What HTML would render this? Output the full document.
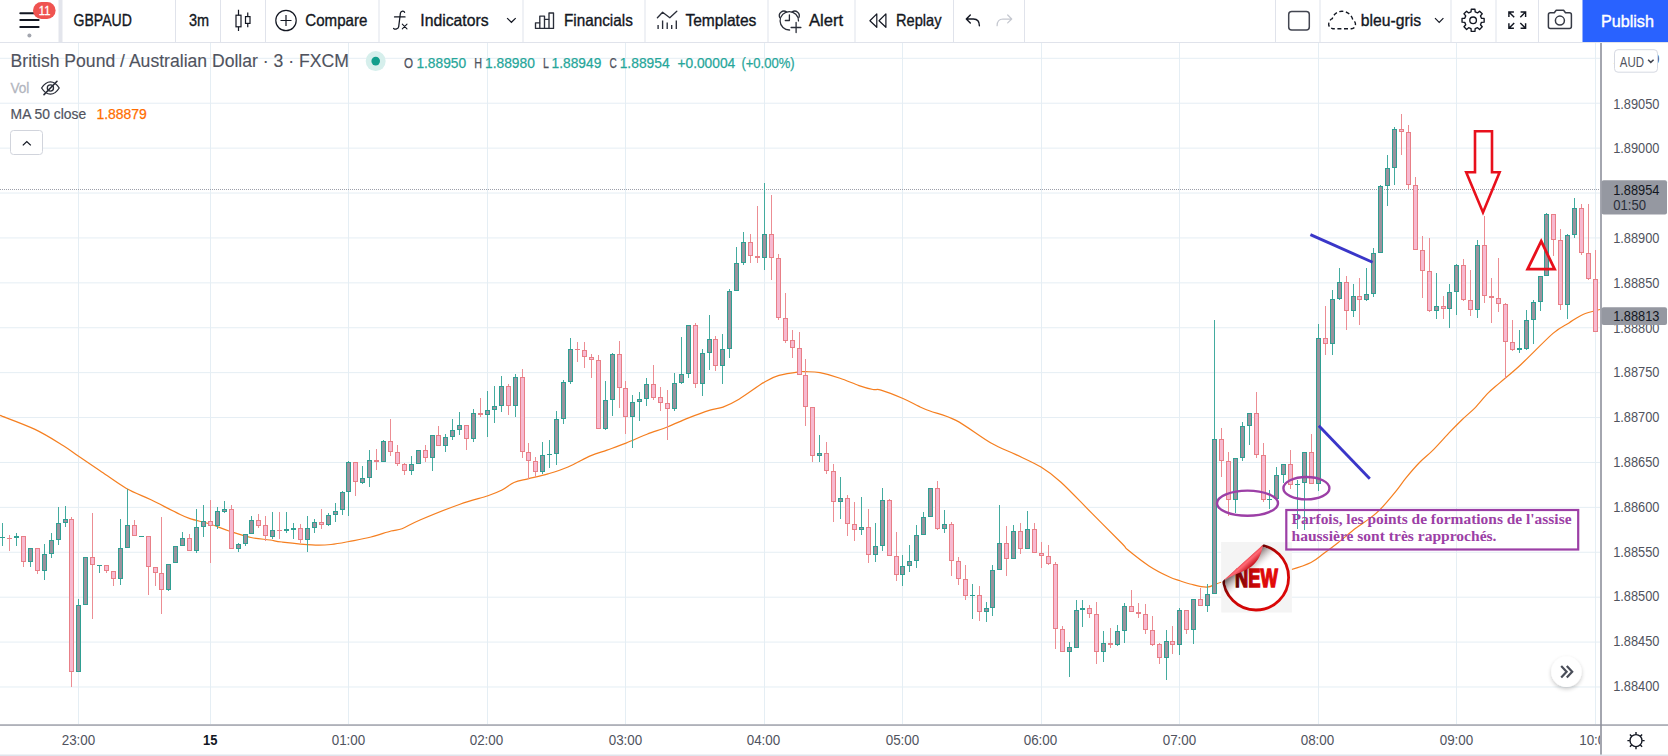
<!DOCTYPE html>
<html><head><meta charset="utf-8"><title>GBPAUD chart</title>
<style>
html,body{margin:0;padding:0;background:#ffffff;}
body{width:1668px;height:756px;overflow:hidden;position:relative;font-family:"Liberation Sans",sans-serif;}
svg{position:absolute;left:0;top:0;display:block;}
svg text{font-family:"Liberation Sans",sans-serif;}
</style></head><body>
<svg width="1668" height="756" viewBox="0 0 1668 756">
<rect x="0" y="0" width="1668" height="756" fill="#ffffff"/>
<g id="grid" shape-rendering="crispEdges">
<rect x="78" y="43" width="1" height="681" fill="#e5eef4"/>
<rect x="210" y="43" width="1" height="681" fill="#e5eef4"/>
<rect x="348" y="43" width="1" height="681" fill="#e5eef4"/>
<rect x="487" y="43" width="1" height="681" fill="#e5eef4"/>
<rect x="625" y="43" width="1" height="681" fill="#e5eef4"/>
<rect x="764" y="43" width="1" height="681" fill="#e5eef4"/>
<rect x="902" y="43" width="1" height="681" fill="#e5eef4"/>
<rect x="1041" y="43" width="1" height="681" fill="#e5eef4"/>
<rect x="1179" y="43" width="1" height="681" fill="#e5eef4"/>
<rect x="1318" y="43" width="1" height="681" fill="#e5eef4"/>
<rect x="1456" y="43" width="1" height="681" fill="#e5eef4"/>
<rect x="1595" y="43" width="1" height="681" fill="#e5eef4"/>
</g>
<g id="gridh">
<rect x="0" y="57.81" width="1600" height="1" fill="#e5eef4"/>
<rect x="0" y="102.72" width="1600" height="1" fill="#e5eef4"/>
<rect x="0" y="147.62" width="1600" height="1" fill="#e5eef4"/>
<rect x="0" y="192.53" width="1600" height="1" fill="#e5eef4"/>
<rect x="0" y="237.43" width="1600" height="1" fill="#e5eef4"/>
<rect x="0" y="282.34" width="1600" height="1" fill="#e5eef4"/>
<rect x="0" y="327.24" width="1600" height="1" fill="#e5eef4"/>
<rect x="0" y="372.14" width="1600" height="1" fill="#e5eef4"/>
<rect x="0" y="417.05" width="1600" height="1" fill="#e5eef4"/>
<rect x="0" y="461.96" width="1600" height="1" fill="#e5eef4"/>
<rect x="0" y="506.86" width="1600" height="1" fill="#e5eef4"/>
<rect x="0" y="551.76" width="1600" height="1" fill="#e5eef4"/>
<rect x="0" y="596.67" width="1600" height="1" fill="#e5eef4"/>
<rect x="0" y="641.58" width="1600" height="1" fill="#e5eef4"/>
<rect x="0" y="686.48" width="1600" height="1" fill="#e5eef4"/>
</g>
<path d="M0,189.5H1600" stroke="#9c9fa9" stroke-width="1" stroke-dasharray="1 1" fill="none"/>
<path d="M0.0,415.4 C5.8,417.7 24.5,424.4 35.0,429.4 C45.5,434.4 55.7,441.0 63.0,445.5 C70.3,450.0 72.8,452.4 79.0,456.6 C85.2,460.8 92.2,465.4 100.0,470.7 C107.8,476.0 117.5,483.3 126.0,488.2 C134.5,493.1 142.7,495.8 151.0,499.8 C159.3,503.8 169.5,509.3 176.0,512.4 C182.5,515.5 184.3,516.7 190.0,518.6 C195.7,520.5 203.5,521.9 210.0,524.0 C216.5,526.1 222.2,528.8 229.0,531.0 C235.8,533.2 244.2,536.0 251.0,537.5 C257.8,539.0 264.8,539.2 270.0,540.0 C275.2,540.8 275.0,541.2 282.0,542.0 C289.0,542.8 303.8,544.5 312.0,544.9 C320.2,545.3 324.8,545.1 331.0,544.5 C337.2,543.9 342.3,542.8 349.0,541.5 C355.7,540.2 364.0,538.8 371.0,537.0 C378.0,535.2 385.8,532.4 391.0,531.0 C396.2,529.6 397.2,530.5 402.0,528.7 C406.8,526.9 410.3,524.1 420.0,520.0 C429.7,515.9 448.7,508.2 460.0,504.2 C471.3,500.1 481.0,498.1 488.0,495.7 C495.0,493.3 497.7,492.2 502.0,490.0 C506.3,487.8 509.7,484.4 514.0,482.5 C518.3,480.6 522.3,480.2 528.0,478.8 C533.7,477.4 541.3,475.9 548.0,473.9 C554.7,471.9 560.8,470.1 568.0,467.0 C575.2,463.9 584.5,458.4 591.0,455.6 C597.5,452.8 601.2,452.2 607.0,450.1 C612.8,448.0 619.3,445.8 626.0,443.1 C632.7,440.5 640.0,436.9 647.0,434.2 C654.0,431.5 661.2,429.4 668.0,426.7 C674.8,424.0 681.0,420.9 688.0,418.1 C695.0,415.3 704.2,411.9 710.0,410.1 C715.8,408.3 718.2,408.9 723.0,407.1 C727.8,405.3 732.0,403.4 739.0,399.2 C746.0,395.0 758.3,385.7 765.0,381.7 C771.7,377.7 773.3,377.0 779.0,375.4 C784.7,373.8 794.5,372.4 799.0,371.8 C803.5,371.2 802.5,371.6 806.0,371.7 C809.5,371.8 814.3,371.6 820.0,372.7 C825.7,373.8 833.5,376.0 840.0,378.2 C846.5,380.4 853.5,383.7 859.0,385.6 C864.5,387.5 869.3,388.8 873.0,389.5 C876.7,390.2 876.0,388.6 881.0,390.1 C886.0,391.6 896.7,395.8 903.0,398.5 C909.3,401.2 914.5,404.3 919.0,406.4 C923.5,408.5 923.8,408.7 930.0,411.0 C936.2,413.3 945.8,415.1 956.0,420.4 C966.2,425.7 981.0,437.3 991.0,443.0 C1001.0,448.7 1007.7,450.6 1016.0,454.6 C1024.3,458.6 1033.5,462.5 1041.0,467.1 C1048.5,471.7 1052.5,474.5 1061.0,482.2 C1069.5,489.9 1081.8,503.2 1092.0,513.4 C1102.2,523.6 1116.0,537.4 1122.0,543.5 C1128.0,549.6 1123.5,546.3 1128.0,550.0 C1132.5,553.7 1142.2,561.4 1149.0,565.9 C1155.8,570.4 1163.8,574.3 1169.0,576.8 C1174.2,579.3 1176.5,579.6 1180.0,580.8 C1183.5,582.0 1185.5,583.0 1190.0,584.0 C1194.5,585.0 1201.7,587.4 1207.0,587.1 C1212.3,586.8 1214.8,583.7 1222.0,582.0 C1229.2,580.3 1240.2,578.8 1250.0,577.0 C1259.8,575.2 1274.3,572.7 1281.0,571.5 C1287.7,570.3 1285.0,571.5 1290.0,570.0 C1295.0,568.5 1305.3,565.3 1311.0,562.5 C1316.7,559.7 1319.5,556.6 1324.0,553.3 C1328.5,550.0 1332.7,546.9 1338.0,542.7 C1343.3,538.5 1350.8,532.1 1356.0,528.1 C1361.2,524.1 1365.0,522.0 1369.0,518.9 C1373.0,515.8 1375.5,514.2 1380.0,509.6 C1384.5,505.0 1391.7,496.4 1396.0,491.1 C1400.3,485.8 1402.0,482.8 1406.0,477.9 C1410.0,473.0 1415.5,466.6 1420.0,462.0 C1424.5,457.4 1428.2,455.0 1433.0,450.1 C1437.8,445.2 1444.2,438.0 1449.0,432.9 C1453.8,427.8 1457.7,423.9 1462.0,419.7 C1466.3,415.5 1470.7,412.2 1475.0,407.8 C1479.3,403.4 1483.8,397.4 1488.0,393.2 C1492.2,389.0 1494.5,387.4 1500.0,382.6 C1505.5,377.8 1512.2,372.7 1521.0,364.5 C1529.8,356.3 1545.0,340.3 1553.0,333.4 C1561.0,326.5 1564.0,326.0 1569.0,322.9 C1574.0,319.8 1577.8,316.7 1583.0,314.5 C1588.2,312.3 1597.2,310.3 1600.0,309.5" fill="none" stroke="#f57f20" stroke-width="1.2" stroke-linejoin="round"/>
<g id="candles" shape-rendering="crispEdges">
<rect x="2" y="523" width="1" height="23" fill="#43ab9f"/>
<rect x="0" y="537" width="5" height="1" fill="#2f9f92"/>
<rect x="9" y="535" width="1" height="16" fill="#ec8d93"/>
<rect x="7" y="538" width="5" height="1" fill="#e87f87"/>
<rect x="16" y="533" width="1" height="13" fill="#43ab9f"/>
<rect x="14" y="536" width="5" height="2" fill="#2f9f92"/>
<rect x="23" y="536" width="1" height="31" fill="#ec8d93"/>
<rect x="21.5" y="536.5" width="4" height="25" fill="#f7b9d0" stroke="#e87f87" stroke-width="1"/>
<rect x="30" y="548" width="1" height="19" fill="#43ab9f"/>
<rect x="28.5" y="548.5" width="4" height="13" fill="#99929d" stroke="#2f9f92" stroke-width="1"/>
<rect x="37" y="548" width="1" height="26" fill="#ec8d93"/>
<rect x="35.5" y="548.5" width="4" height="22" fill="#f7b9d0" stroke="#e87f87" stroke-width="1"/>
<rect x="44" y="544" width="1" height="36" fill="#43ab9f"/>
<rect x="42.5" y="554.5" width="4" height="16" fill="#99929d" stroke="#2f9f92" stroke-width="1"/>
<rect x="51" y="533" width="1" height="25" fill="#43ab9f"/>
<rect x="49.5" y="540.5" width="4" height="13" fill="#99929d" stroke="#2f9f92" stroke-width="1"/>
<rect x="58" y="507" width="1" height="38" fill="#43ab9f"/>
<rect x="56.5" y="523.5" width="4" height="16" fill="#99929d" stroke="#2f9f92" stroke-width="1"/>
<rect x="65" y="506" width="1" height="21" fill="#43ab9f"/>
<rect x="63.5" y="519.5" width="4" height="3" fill="#99929d" stroke="#2f9f92" stroke-width="1"/>
<rect x="71" y="517" width="1" height="170" fill="#ec8d93"/>
<rect x="69.5" y="519.5" width="4" height="152" fill="#f7b9d0" stroke="#e87f87" stroke-width="1"/>
<rect x="78" y="599" width="1" height="73" fill="#43ab9f"/>
<rect x="76.5" y="605.5" width="4" height="66" fill="#99929d" stroke="#2f9f92" stroke-width="1"/>
<rect x="85" y="557" width="1" height="48" fill="#43ab9f"/>
<rect x="83.5" y="557.5" width="4" height="47" fill="#99929d" stroke="#2f9f92" stroke-width="1"/>
<rect x="92" y="513" width="1" height="106" fill="#ec8d93"/>
<rect x="90.5" y="557.5" width="4" height="7" fill="#f7b9d0" stroke="#e87f87" stroke-width="1"/>
<rect x="99" y="565" width="1" height="8" fill="#43ab9f"/>
<rect x="97" y="565" width="5" height="1" fill="#2f9f92"/>
<rect x="106" y="565" width="1" height="8" fill="#ec8d93"/>
<rect x="104.5" y="565.5" width="4" height="5" fill="#f7b9d0" stroke="#e87f87" stroke-width="1"/>
<rect x="113" y="571" width="1" height="15" fill="#ec8d93"/>
<rect x="111.5" y="571.5" width="4" height="7" fill="#f7b9d0" stroke="#e87f87" stroke-width="1"/>
<rect x="120" y="519" width="1" height="66" fill="#43ab9f"/>
<rect x="118.5" y="548.5" width="4" height="30" fill="#99929d" stroke="#2f9f92" stroke-width="1"/>
<rect x="127" y="489" width="1" height="59" fill="#43ab9f"/>
<rect x="125.5" y="525.5" width="4" height="22" fill="#99929d" stroke="#2f9f92" stroke-width="1"/>
<rect x="134" y="520" width="1" height="16" fill="#ec8d93"/>
<rect x="132.5" y="525.5" width="4" height="10" fill="#f7b9d0" stroke="#e87f87" stroke-width="1"/>
<rect x="139" y="536" width="5" height="1" fill="#2f9f92"/>
<rect x="148" y="536" width="1" height="59" fill="#ec8d93"/>
<rect x="146.5" y="536.5" width="4" height="30" fill="#f7b9d0" stroke="#e87f87" stroke-width="1"/>
<rect x="155" y="567" width="1" height="19" fill="#ec8d93"/>
<rect x="153.5" y="567.5" width="4" height="5" fill="#f7b9d0" stroke="#e87f87" stroke-width="1"/>
<rect x="161" y="517" width="1" height="97" fill="#ec8d93"/>
<rect x="159.5" y="573.5" width="4" height="16" fill="#f7b9d0" stroke="#e87f87" stroke-width="1"/>
<rect x="168" y="564" width="1" height="27" fill="#43ab9f"/>
<rect x="166.5" y="564.5" width="4" height="25" fill="#99929d" stroke="#2f9f92" stroke-width="1"/>
<rect x="175" y="546" width="1" height="17" fill="#43ab9f"/>
<rect x="173.5" y="546.5" width="4" height="16" fill="#99929d" stroke="#2f9f92" stroke-width="1"/>
<rect x="182" y="532" width="1" height="14" fill="#43ab9f"/>
<rect x="180.5" y="538.5" width="4" height="7" fill="#99929d" stroke="#2f9f92" stroke-width="1"/>
<rect x="189" y="534" width="1" height="17" fill="#ec8d93"/>
<rect x="187.5" y="538.5" width="4" height="12" fill="#f7b9d0" stroke="#e87f87" stroke-width="1"/>
<rect x="196" y="509" width="1" height="44" fill="#43ab9f"/>
<rect x="194.5" y="527.5" width="4" height="23" fill="#99929d" stroke="#2f9f92" stroke-width="1"/>
<rect x="203" y="505" width="1" height="32" fill="#43ab9f"/>
<rect x="201.5" y="521.5" width="4" height="5" fill="#99929d" stroke="#2f9f92" stroke-width="1"/>
<rect x="210" y="500" width="1" height="63" fill="#ec8d93"/>
<rect x="208.5" y="521.5" width="4" height="4" fill="#f7b9d0" stroke="#e87f87" stroke-width="1"/>
<rect x="217" y="507" width="1" height="22" fill="#43ab9f"/>
<rect x="215.5" y="511.5" width="4" height="14" fill="#99929d" stroke="#2f9f92" stroke-width="1"/>
<rect x="224" y="501" width="1" height="12" fill="#43ab9f"/>
<rect x="222.5" y="509.5" width="4" height="2" fill="#99929d" stroke="#2f9f92" stroke-width="1"/>
<rect x="231" y="505" width="1" height="44" fill="#ec8d93"/>
<rect x="229.5" y="509.5" width="4" height="39" fill="#f7b9d0" stroke="#e87f87" stroke-width="1"/>
<rect x="238" y="543" width="1" height="9" fill="#43ab9f"/>
<rect x="236.5" y="544.5" width="4" height="4" fill="#99929d" stroke="#2f9f92" stroke-width="1"/>
<rect x="245" y="534" width="1" height="12" fill="#43ab9f"/>
<rect x="243.5" y="534.5" width="4" height="9" fill="#99929d" stroke="#2f9f92" stroke-width="1"/>
<rect x="251" y="516" width="1" height="18" fill="#43ab9f"/>
<rect x="249.5" y="520.5" width="4" height="13" fill="#99929d" stroke="#2f9f92" stroke-width="1"/>
<rect x="258" y="514" width="1" height="14" fill="#ec8d93"/>
<rect x="256.5" y="520.5" width="4" height="5" fill="#f7b9d0" stroke="#e87f87" stroke-width="1"/>
<rect x="265" y="516" width="1" height="25" fill="#ec8d93"/>
<rect x="263.5" y="525.5" width="4" height="10" fill="#f7b9d0" stroke="#e87f87" stroke-width="1"/>
<rect x="272" y="512" width="1" height="27" fill="#43ab9f"/>
<rect x="270.5" y="530.5" width="4" height="6" fill="#99929d" stroke="#2f9f92" stroke-width="1"/>
<rect x="279" y="512" width="1" height="27" fill="#ec8d93"/>
<rect x="277" y="530" width="5" height="1" fill="#e87f87"/>
<rect x="286" y="512" width="1" height="21" fill="#43ab9f"/>
<rect x="284" y="529" width="5" height="2" fill="#2f9f92"/>
<rect x="293" y="523" width="1" height="16" fill="#43ab9f"/>
<rect x="291" y="528" width="5" height="2" fill="#2f9f92"/>
<rect x="300" y="524" width="1" height="19" fill="#ec8d93"/>
<rect x="298.5" y="528.5" width="4" height="11" fill="#f7b9d0" stroke="#e87f87" stroke-width="1"/>
<rect x="307" y="516" width="1" height="36" fill="#43ab9f"/>
<rect x="305.5" y="528.5" width="4" height="11" fill="#99929d" stroke="#2f9f92" stroke-width="1"/>
<rect x="314" y="519" width="1" height="14" fill="#43ab9f"/>
<rect x="312.5" y="522.5" width="4" height="5" fill="#99929d" stroke="#2f9f92" stroke-width="1"/>
<rect x="321" y="509" width="1" height="20" fill="#ec8d93"/>
<rect x="319.5" y="522.5" width="4" height="2" fill="#f7b9d0" stroke="#e87f87" stroke-width="1"/>
<rect x="328" y="513" width="1" height="13" fill="#43ab9f"/>
<rect x="326.5" y="515.5" width="4" height="9" fill="#99929d" stroke="#2f9f92" stroke-width="1"/>
<rect x="335" y="503" width="1" height="19" fill="#43ab9f"/>
<rect x="333.5" y="511.5" width="4" height="3" fill="#99929d" stroke="#2f9f92" stroke-width="1"/>
<rect x="342" y="491" width="1" height="24" fill="#43ab9f"/>
<rect x="340.5" y="492.5" width="4" height="17" fill="#99929d" stroke="#2f9f92" stroke-width="1"/>
<rect x="348" y="461" width="1" height="55" fill="#43ab9f"/>
<rect x="346.5" y="462.5" width="4" height="29" fill="#99929d" stroke="#2f9f92" stroke-width="1"/>
<rect x="355" y="462" width="1" height="34" fill="#ec8d93"/>
<rect x="353.5" y="462.5" width="4" height="19" fill="#f7b9d0" stroke="#e87f87" stroke-width="1"/>
<rect x="362" y="466" width="1" height="18" fill="#43ab9f"/>
<rect x="360.5" y="478.5" width="4" height="4" fill="#99929d" stroke="#2f9f92" stroke-width="1"/>
<rect x="369" y="450" width="1" height="37" fill="#43ab9f"/>
<rect x="367.5" y="460.5" width="4" height="17" fill="#99929d" stroke="#2f9f92" stroke-width="1"/>
<rect x="376" y="449" width="1" height="21" fill="#ec8d93"/>
<rect x="374" y="460" width="5" height="2" fill="#e87f87"/>
<rect x="383" y="440" width="1" height="22" fill="#43ab9f"/>
<rect x="381.5" y="441.5" width="4" height="20" fill="#99929d" stroke="#2f9f92" stroke-width="1"/>
<rect x="390" y="419" width="1" height="37" fill="#ec8d93"/>
<rect x="388.5" y="441.5" width="4" height="10" fill="#f7b9d0" stroke="#e87f87" stroke-width="1"/>
<rect x="397" y="445" width="1" height="21" fill="#ec8d93"/>
<rect x="395.5" y="452.5" width="4" height="11" fill="#f7b9d0" stroke="#e87f87" stroke-width="1"/>
<rect x="404" y="463" width="1" height="12" fill="#ec8d93"/>
<rect x="402.5" y="464.5" width="4" height="6" fill="#f7b9d0" stroke="#e87f87" stroke-width="1"/>
<rect x="411" y="456" width="1" height="19" fill="#43ab9f"/>
<rect x="409.5" y="464.5" width="4" height="6" fill="#99929d" stroke="#2f9f92" stroke-width="1"/>
<rect x="418" y="450" width="1" height="14" fill="#43ab9f"/>
<rect x="416.5" y="450.5" width="4" height="13" fill="#99929d" stroke="#2f9f92" stroke-width="1"/>
<rect x="425" y="445" width="1" height="17" fill="#ec8d93"/>
<rect x="423.5" y="450.5" width="4" height="7" fill="#f7b9d0" stroke="#e87f87" stroke-width="1"/>
<rect x="432" y="435" width="1" height="36" fill="#43ab9f"/>
<rect x="430.5" y="435.5" width="4" height="22" fill="#99929d" stroke="#2f9f92" stroke-width="1"/>
<rect x="438" y="426" width="1" height="20" fill="#ec8d93"/>
<rect x="436.5" y="435.5" width="4" height="10" fill="#f7b9d0" stroke="#e87f87" stroke-width="1"/>
<rect x="445" y="434" width="1" height="18" fill="#43ab9f"/>
<rect x="443.5" y="437.5" width="4" height="8" fill="#99929d" stroke="#2f9f92" stroke-width="1"/>
<rect x="452" y="419" width="1" height="21" fill="#43ab9f"/>
<rect x="450.5" y="430.5" width="4" height="6" fill="#99929d" stroke="#2f9f92" stroke-width="1"/>
<rect x="459" y="412" width="1" height="23" fill="#43ab9f"/>
<rect x="457.5" y="425.5" width="4" height="4" fill="#99929d" stroke="#2f9f92" stroke-width="1"/>
<rect x="466" y="425" width="1" height="25" fill="#ec8d93"/>
<rect x="464.5" y="425.5" width="4" height="13" fill="#f7b9d0" stroke="#e87f87" stroke-width="1"/>
<rect x="473" y="409" width="1" height="33" fill="#43ab9f"/>
<rect x="471.5" y="413.5" width="4" height="25" fill="#99929d" stroke="#2f9f92" stroke-width="1"/>
<rect x="480" y="398" width="1" height="19" fill="#ec8d93"/>
<rect x="478" y="413" width="5" height="2" fill="#e87f87"/>
<rect x="487" y="391" width="1" height="46" fill="#43ab9f"/>
<rect x="485.5" y="410.5" width="4" height="4" fill="#99929d" stroke="#2f9f92" stroke-width="1"/>
<rect x="494" y="386" width="1" height="37" fill="#43ab9f"/>
<rect x="492.5" y="406.5" width="4" height="3" fill="#99929d" stroke="#2f9f92" stroke-width="1"/>
<rect x="501" y="376" width="1" height="36" fill="#43ab9f"/>
<rect x="499.5" y="386.5" width="4" height="19" fill="#99929d" stroke="#2f9f92" stroke-width="1"/>
<rect x="508" y="384" width="1" height="31" fill="#ec8d93"/>
<rect x="506.5" y="386.5" width="4" height="19" fill="#f7b9d0" stroke="#e87f87" stroke-width="1"/>
<rect x="515" y="374" width="1" height="43" fill="#43ab9f"/>
<rect x="513.5" y="377.5" width="4" height="28" fill="#99929d" stroke="#2f9f92" stroke-width="1"/>
<rect x="522" y="369" width="1" height="89" fill="#ec8d93"/>
<rect x="520.5" y="377.5" width="4" height="74" fill="#f7b9d0" stroke="#e87f87" stroke-width="1"/>
<rect x="528" y="443" width="1" height="36" fill="#ec8d93"/>
<rect x="526.5" y="452.5" width="4" height="8" fill="#f7b9d0" stroke="#e87f87" stroke-width="1"/>
<rect x="535" y="457" width="1" height="20" fill="#ec8d93"/>
<rect x="533.5" y="461.5" width="4" height="10" fill="#f7b9d0" stroke="#e87f87" stroke-width="1"/>
<rect x="542" y="442" width="1" height="32" fill="#43ab9f"/>
<rect x="540.5" y="455.5" width="4" height="16" fill="#99929d" stroke="#2f9f92" stroke-width="1"/>
<rect x="549" y="440" width="1" height="28" fill="#43ab9f"/>
<rect x="547" y="454" width="5" height="1" fill="#2f9f92"/>
<rect x="556" y="411" width="1" height="54" fill="#43ab9f"/>
<rect x="554.5" y="419.5" width="4" height="34" fill="#99929d" stroke="#2f9f92" stroke-width="1"/>
<rect x="563" y="380" width="1" height="44" fill="#43ab9f"/>
<rect x="561.5" y="382.5" width="4" height="36" fill="#99929d" stroke="#2f9f92" stroke-width="1"/>
<rect x="570" y="338" width="1" height="46" fill="#43ab9f"/>
<rect x="568.5" y="349.5" width="4" height="32" fill="#99929d" stroke="#2f9f92" stroke-width="1"/>
<rect x="577" y="342" width="1" height="20" fill="#ec8d93"/>
<rect x="575" y="349" width="5" height="1" fill="#e87f87"/>
<rect x="584" y="342" width="1" height="26" fill="#ec8d93"/>
<rect x="582.5" y="350.5" width="4" height="6" fill="#f7b9d0" stroke="#e87f87" stroke-width="1"/>
<rect x="591" y="354" width="1" height="24" fill="#ec8d93"/>
<rect x="589.5" y="357.5" width="4" height="2" fill="#f7b9d0" stroke="#e87f87" stroke-width="1"/>
<rect x="598" y="355" width="1" height="74" fill="#ec8d93"/>
<rect x="596.5" y="360.5" width="4" height="68" fill="#f7b9d0" stroke="#e87f87" stroke-width="1"/>
<rect x="605" y="381" width="1" height="49" fill="#43ab9f"/>
<rect x="603.5" y="400.5" width="4" height="28" fill="#99929d" stroke="#2f9f92" stroke-width="1"/>
<rect x="612" y="353" width="1" height="63" fill="#43ab9f"/>
<rect x="610.5" y="354.5" width="4" height="45" fill="#99929d" stroke="#2f9f92" stroke-width="1"/>
<rect x="619" y="341" width="1" height="67" fill="#ec8d93"/>
<rect x="617.5" y="354.5" width="4" height="33" fill="#f7b9d0" stroke="#e87f87" stroke-width="1"/>
<rect x="625" y="381" width="1" height="53" fill="#ec8d93"/>
<rect x="623.5" y="388.5" width="4" height="28" fill="#f7b9d0" stroke="#e87f87" stroke-width="1"/>
<rect x="632" y="395" width="1" height="53" fill="#43ab9f"/>
<rect x="630.5" y="402.5" width="4" height="14" fill="#99929d" stroke="#2f9f92" stroke-width="1"/>
<rect x="639" y="392" width="1" height="29" fill="#43ab9f"/>
<rect x="637.5" y="399.5" width="4" height="2" fill="#99929d" stroke="#2f9f92" stroke-width="1"/>
<rect x="646" y="378" width="1" height="28" fill="#43ab9f"/>
<rect x="644.5" y="384.5" width="4" height="14" fill="#99929d" stroke="#2f9f92" stroke-width="1"/>
<rect x="653" y="365" width="1" height="35" fill="#ec8d93"/>
<rect x="651.5" y="384.5" width="4" height="13" fill="#f7b9d0" stroke="#e87f87" stroke-width="1"/>
<rect x="660" y="387" width="1" height="24" fill="#ec8d93"/>
<rect x="658.5" y="397.5" width="4" height="5" fill="#f7b9d0" stroke="#e87f87" stroke-width="1"/>
<rect x="667" y="390" width="1" height="50" fill="#ec8d93"/>
<rect x="665.5" y="403.5" width="4" height="5" fill="#f7b9d0" stroke="#e87f87" stroke-width="1"/>
<rect x="674" y="373" width="1" height="38" fill="#43ab9f"/>
<rect x="672.5" y="383.5" width="4" height="25" fill="#99929d" stroke="#2f9f92" stroke-width="1"/>
<rect x="681" y="337" width="1" height="47" fill="#43ab9f"/>
<rect x="679.5" y="374.5" width="4" height="8" fill="#99929d" stroke="#2f9f92" stroke-width="1"/>
<rect x="688" y="325" width="1" height="53" fill="#43ab9f"/>
<rect x="686.5" y="325.5" width="4" height="48" fill="#99929d" stroke="#2f9f92" stroke-width="1"/>
<rect x="695" y="323" width="1" height="65" fill="#ec8d93"/>
<rect x="693.5" y="325.5" width="4" height="58" fill="#f7b9d0" stroke="#e87f87" stroke-width="1"/>
<rect x="702" y="349" width="1" height="47" fill="#43ab9f"/>
<rect x="700.5" y="353.5" width="4" height="30" fill="#99929d" stroke="#2f9f92" stroke-width="1"/>
<rect x="709" y="315" width="1" height="55" fill="#43ab9f"/>
<rect x="707.5" y="339.5" width="4" height="13" fill="#99929d" stroke="#2f9f92" stroke-width="1"/>
<rect x="715" y="336" width="1" height="35" fill="#ec8d93"/>
<rect x="713.5" y="339.5" width="4" height="26" fill="#f7b9d0" stroke="#e87f87" stroke-width="1"/>
<rect x="722" y="334" width="1" height="50" fill="#43ab9f"/>
<rect x="720.5" y="349.5" width="4" height="16" fill="#99929d" stroke="#2f9f92" stroke-width="1"/>
<rect x="729" y="289" width="1" height="69" fill="#43ab9f"/>
<rect x="727.5" y="291.5" width="4" height="57" fill="#99929d" stroke="#2f9f92" stroke-width="1"/>
<rect x="736" y="247" width="1" height="44" fill="#43ab9f"/>
<rect x="734.5" y="263.5" width="4" height="27" fill="#99929d" stroke="#2f9f92" stroke-width="1"/>
<rect x="743" y="232" width="1" height="33" fill="#43ab9f"/>
<rect x="741.5" y="242.5" width="4" height="20" fill="#99929d" stroke="#2f9f92" stroke-width="1"/>
<rect x="750" y="234" width="1" height="29" fill="#ec8d93"/>
<rect x="748.5" y="242.5" width="4" height="13" fill="#f7b9d0" stroke="#e87f87" stroke-width="1"/>
<rect x="757" y="206" width="1" height="57" fill="#ec8d93"/>
<rect x="755" y="256" width="5" height="2" fill="#e87f87"/>
<rect x="764" y="183" width="1" height="87" fill="#43ab9f"/>
<rect x="762.5" y="234.5" width="4" height="23" fill="#99929d" stroke="#2f9f92" stroke-width="1"/>
<rect x="771" y="195" width="1" height="85" fill="#ec8d93"/>
<rect x="769.5" y="234.5" width="4" height="23" fill="#f7b9d0" stroke="#e87f87" stroke-width="1"/>
<rect x="778" y="254" width="1" height="66" fill="#ec8d93"/>
<rect x="776.5" y="258.5" width="4" height="59" fill="#f7b9d0" stroke="#e87f87" stroke-width="1"/>
<rect x="785" y="293" width="1" height="50" fill="#ec8d93"/>
<rect x="783.5" y="318.5" width="4" height="22" fill="#f7b9d0" stroke="#e87f87" stroke-width="1"/>
<rect x="792" y="330" width="1" height="28" fill="#ec8d93"/>
<rect x="790.5" y="340.5" width="4" height="7" fill="#f7b9d0" stroke="#e87f87" stroke-width="1"/>
<rect x="799" y="332" width="1" height="43" fill="#ec8d93"/>
<rect x="797.5" y="348.5" width="4" height="26" fill="#f7b9d0" stroke="#e87f87" stroke-width="1"/>
<rect x="805" y="359" width="1" height="67" fill="#ec8d93"/>
<rect x="803.5" y="375.5" width="4" height="31" fill="#f7b9d0" stroke="#e87f87" stroke-width="1"/>
<rect x="812" y="407" width="1" height="55" fill="#ec8d93"/>
<rect x="810.5" y="407.5" width="4" height="48" fill="#f7b9d0" stroke="#e87f87" stroke-width="1"/>
<rect x="819" y="435" width="1" height="27" fill="#43ab9f"/>
<rect x="817.5" y="453.5" width="4" height="2" fill="#99929d" stroke="#2f9f92" stroke-width="1"/>
<rect x="826" y="442" width="1" height="32" fill="#ec8d93"/>
<rect x="824.5" y="453.5" width="4" height="17" fill="#f7b9d0" stroke="#e87f87" stroke-width="1"/>
<rect x="833" y="464" width="1" height="58" fill="#ec8d93"/>
<rect x="831.5" y="471.5" width="4" height="30" fill="#f7b9d0" stroke="#e87f87" stroke-width="1"/>
<rect x="840" y="477" width="1" height="42" fill="#43ab9f"/>
<rect x="838.5" y="498.5" width="4" height="3" fill="#99929d" stroke="#2f9f92" stroke-width="1"/>
<rect x="847" y="495" width="1" height="41" fill="#ec8d93"/>
<rect x="845.5" y="498.5" width="4" height="25" fill="#f7b9d0" stroke="#e87f87" stroke-width="1"/>
<rect x="854" y="502" width="1" height="39" fill="#ec8d93"/>
<rect x="852.5" y="524.5" width="4" height="5" fill="#f7b9d0" stroke="#e87f87" stroke-width="1"/>
<rect x="861" y="497" width="1" height="38" fill="#43ab9f"/>
<rect x="859.5" y="527.5" width="4" height="2" fill="#99929d" stroke="#2f9f92" stroke-width="1"/>
<rect x="868" y="509" width="1" height="54" fill="#ec8d93"/>
<rect x="866.5" y="527.5" width="4" height="27" fill="#f7b9d0" stroke="#e87f87" stroke-width="1"/>
<rect x="875" y="523" width="1" height="39" fill="#43ab9f"/>
<rect x="873.5" y="546.5" width="4" height="8" fill="#99929d" stroke="#2f9f92" stroke-width="1"/>
<rect x="882" y="488" width="1" height="63" fill="#43ab9f"/>
<rect x="880.5" y="500.5" width="4" height="45" fill="#99929d" stroke="#2f9f92" stroke-width="1"/>
<rect x="889" y="499" width="1" height="57" fill="#ec8d93"/>
<rect x="887.5" y="500.5" width="4" height="55" fill="#f7b9d0" stroke="#e87f87" stroke-width="1"/>
<rect x="896" y="532" width="1" height="49" fill="#ec8d93"/>
<rect x="894.5" y="556.5" width="4" height="18" fill="#f7b9d0" stroke="#e87f87" stroke-width="1"/>
<rect x="902" y="555" width="1" height="31" fill="#43ab9f"/>
<rect x="900.5" y="566.5" width="4" height="8" fill="#99929d" stroke="#2f9f92" stroke-width="1"/>
<rect x="909" y="545" width="1" height="27" fill="#43ab9f"/>
<rect x="907.5" y="561.5" width="4" height="4" fill="#99929d" stroke="#2f9f92" stroke-width="1"/>
<rect x="916" y="525" width="1" height="43" fill="#43ab9f"/>
<rect x="914.5" y="535.5" width="4" height="25" fill="#99929d" stroke="#2f9f92" stroke-width="1"/>
<rect x="923" y="512" width="1" height="23" fill="#43ab9f"/>
<rect x="921.5" y="517.5" width="4" height="17" fill="#99929d" stroke="#2f9f92" stroke-width="1"/>
<rect x="930" y="488" width="1" height="29" fill="#43ab9f"/>
<rect x="928.5" y="488.5" width="4" height="28" fill="#99929d" stroke="#2f9f92" stroke-width="1"/>
<rect x="937" y="481" width="1" height="49" fill="#ec8d93"/>
<rect x="935.5" y="488.5" width="4" height="40" fill="#f7b9d0" stroke="#e87f87" stroke-width="1"/>
<rect x="944" y="510" width="1" height="23" fill="#43ab9f"/>
<rect x="942.5" y="524.5" width="4" height="4" fill="#99929d" stroke="#2f9f92" stroke-width="1"/>
<rect x="951" y="522" width="1" height="54" fill="#ec8d93"/>
<rect x="949.5" y="524.5" width="4" height="36" fill="#f7b9d0" stroke="#e87f87" stroke-width="1"/>
<rect x="958" y="557" width="1" height="28" fill="#ec8d93"/>
<rect x="956.5" y="561.5" width="4" height="17" fill="#f7b9d0" stroke="#e87f87" stroke-width="1"/>
<rect x="965" y="565" width="1" height="35" fill="#ec8d93"/>
<rect x="963.5" y="579.5" width="4" height="16" fill="#f7b9d0" stroke="#e87f87" stroke-width="1"/>
<rect x="972" y="584" width="1" height="35" fill="#43ab9f"/>
<rect x="970" y="595" width="5" height="1" fill="#2f9f92"/>
<rect x="979" y="586" width="1" height="35" fill="#ec8d93"/>
<rect x="977.5" y="595.5" width="4" height="16" fill="#f7b9d0" stroke="#e87f87" stroke-width="1"/>
<rect x="986" y="602" width="1" height="20" fill="#43ab9f"/>
<rect x="984.5" y="608.5" width="4" height="3" fill="#99929d" stroke="#2f9f92" stroke-width="1"/>
<rect x="992" y="565" width="1" height="51" fill="#43ab9f"/>
<rect x="990.5" y="570.5" width="4" height="37" fill="#99929d" stroke="#2f9f92" stroke-width="1"/>
<rect x="999" y="505" width="1" height="65" fill="#43ab9f"/>
<rect x="997.5" y="543.5" width="4" height="26" fill="#99929d" stroke="#2f9f92" stroke-width="1"/>
<rect x="1006" y="526" width="1" height="50" fill="#ec8d93"/>
<rect x="1004.5" y="543.5" width="4" height="15" fill="#f7b9d0" stroke="#e87f87" stroke-width="1"/>
<rect x="1013" y="525" width="1" height="34" fill="#43ab9f"/>
<rect x="1011.5" y="531.5" width="4" height="27" fill="#99929d" stroke="#2f9f92" stroke-width="1"/>
<rect x="1020" y="523" width="1" height="31" fill="#ec8d93"/>
<rect x="1018.5" y="531.5" width="4" height="17" fill="#f7b9d0" stroke="#e87f87" stroke-width="1"/>
<rect x="1027" y="511" width="1" height="38" fill="#43ab9f"/>
<rect x="1025.5" y="529.5" width="4" height="19" fill="#99929d" stroke="#2f9f92" stroke-width="1"/>
<rect x="1034" y="523" width="1" height="30" fill="#ec8d93"/>
<rect x="1032.5" y="529.5" width="4" height="23" fill="#f7b9d0" stroke="#e87f87" stroke-width="1"/>
<rect x="1041" y="542" width="1" height="26" fill="#ec8d93"/>
<rect x="1039.5" y="553.5" width="4" height="2" fill="#f7b9d0" stroke="#e87f87" stroke-width="1"/>
<rect x="1048" y="545" width="1" height="20" fill="#ec8d93"/>
<rect x="1046.5" y="556.5" width="4" height="7" fill="#f7b9d0" stroke="#e87f87" stroke-width="1"/>
<rect x="1055" y="562" width="1" height="87" fill="#ec8d93"/>
<rect x="1053.5" y="564.5" width="4" height="64" fill="#f7b9d0" stroke="#e87f87" stroke-width="1"/>
<rect x="1062" y="626" width="1" height="26" fill="#ec8d93"/>
<rect x="1060.5" y="629.5" width="4" height="22" fill="#f7b9d0" stroke="#e87f87" stroke-width="1"/>
<rect x="1069" y="642" width="1" height="35" fill="#43ab9f"/>
<rect x="1067.5" y="647.5" width="4" height="4" fill="#99929d" stroke="#2f9f92" stroke-width="1"/>
<rect x="1076" y="600" width="1" height="48" fill="#43ab9f"/>
<rect x="1074.5" y="610.5" width="4" height="37" fill="#99929d" stroke="#2f9f92" stroke-width="1"/>
<rect x="1082" y="600" width="1" height="27" fill="#43ab9f"/>
<rect x="1080" y="608" width="5" height="2" fill="#2f9f92"/>
<rect x="1089" y="605" width="1" height="13" fill="#ec8d93"/>
<rect x="1087.5" y="608.5" width="4" height="5" fill="#f7b9d0" stroke="#e87f87" stroke-width="1"/>
<rect x="1096" y="602" width="1" height="62" fill="#ec8d93"/>
<rect x="1094.5" y="614.5" width="4" height="37" fill="#f7b9d0" stroke="#e87f87" stroke-width="1"/>
<rect x="1103" y="631" width="1" height="31" fill="#43ab9f"/>
<rect x="1101.5" y="643.5" width="4" height="8" fill="#99929d" stroke="#2f9f92" stroke-width="1"/>
<rect x="1110" y="628" width="1" height="20" fill="#ec8d93"/>
<rect x="1108" y="643" width="5" height="2" fill="#e87f87"/>
<rect x="1117" y="625" width="1" height="21" fill="#43ab9f"/>
<rect x="1115.5" y="631.5" width="4" height="13" fill="#99929d" stroke="#2f9f92" stroke-width="1"/>
<rect x="1124" y="603" width="1" height="40" fill="#43ab9f"/>
<rect x="1122.5" y="606.5" width="4" height="24" fill="#99929d" stroke="#2f9f92" stroke-width="1"/>
<rect x="1131" y="590" width="1" height="22" fill="#ec8d93"/>
<rect x="1129.5" y="606.5" width="4" height="5" fill="#f7b9d0" stroke="#e87f87" stroke-width="1"/>
<rect x="1138" y="603" width="1" height="15" fill="#ec8d93"/>
<rect x="1136" y="612" width="5" height="2" fill="#e87f87"/>
<rect x="1145" y="604" width="1" height="30" fill="#ec8d93"/>
<rect x="1143.5" y="614.5" width="4" height="15" fill="#f7b9d0" stroke="#e87f87" stroke-width="1"/>
<rect x="1152" y="616" width="1" height="30" fill="#ec8d93"/>
<rect x="1150.5" y="630.5" width="4" height="14" fill="#f7b9d0" stroke="#e87f87" stroke-width="1"/>
<rect x="1159" y="643" width="1" height="21" fill="#ec8d93"/>
<rect x="1157.5" y="644.5" width="4" height="13" fill="#f7b9d0" stroke="#e87f87" stroke-width="1"/>
<rect x="1166" y="630" width="1" height="50" fill="#43ab9f"/>
<rect x="1164.5" y="641.5" width="4" height="16" fill="#99929d" stroke="#2f9f92" stroke-width="1"/>
<rect x="1172" y="626" width="1" height="28" fill="#ec8d93"/>
<rect x="1170.5" y="641.5" width="4" height="3" fill="#f7b9d0" stroke="#e87f87" stroke-width="1"/>
<rect x="1179" y="608" width="1" height="47" fill="#43ab9f"/>
<rect x="1177.5" y="610.5" width="4" height="34" fill="#99929d" stroke="#2f9f92" stroke-width="1"/>
<rect x="1186" y="610" width="1" height="24" fill="#ec8d93"/>
<rect x="1184.5" y="610.5" width="4" height="19" fill="#f7b9d0" stroke="#e87f87" stroke-width="1"/>
<rect x="1193" y="599" width="1" height="45" fill="#43ab9f"/>
<rect x="1191.5" y="599.5" width="4" height="30" fill="#99929d" stroke="#2f9f92" stroke-width="1"/>
<rect x="1200" y="588" width="1" height="18" fill="#ec8d93"/>
<rect x="1198.5" y="599.5" width="4" height="6" fill="#f7b9d0" stroke="#e87f87" stroke-width="1"/>
<rect x="1207" y="584" width="1" height="28" fill="#43ab9f"/>
<rect x="1205.5" y="594.5" width="4" height="11" fill="#99929d" stroke="#2f9f92" stroke-width="1"/>
<rect x="1214" y="320" width="1" height="274" fill="#43ab9f"/>
<rect x="1212.5" y="439.5" width="4" height="154" fill="#99929d" stroke="#2f9f92" stroke-width="1"/>
<rect x="1221" y="428" width="1" height="49" fill="#ec8d93"/>
<rect x="1219.5" y="439.5" width="4" height="21" fill="#f7b9d0" stroke="#e87f87" stroke-width="1"/>
<rect x="1228" y="452" width="1" height="64" fill="#ec8d93"/>
<rect x="1226.5" y="461.5" width="4" height="38" fill="#f7b9d0" stroke="#e87f87" stroke-width="1"/>
<rect x="1235" y="458" width="1" height="55" fill="#43ab9f"/>
<rect x="1233.5" y="458.5" width="4" height="41" fill="#99929d" stroke="#2f9f92" stroke-width="1"/>
<rect x="1242" y="422" width="1" height="39" fill="#43ab9f"/>
<rect x="1240.5" y="426.5" width="4" height="31" fill="#99929d" stroke="#2f9f92" stroke-width="1"/>
<rect x="1249" y="413" width="1" height="32" fill="#43ab9f"/>
<rect x="1247.5" y="413.5" width="4" height="12" fill="#99929d" stroke="#2f9f92" stroke-width="1"/>
<rect x="1256" y="392" width="1" height="66" fill="#ec8d93"/>
<rect x="1254.5" y="413.5" width="4" height="41" fill="#f7b9d0" stroke="#e87f87" stroke-width="1"/>
<rect x="1263" y="443" width="1" height="59" fill="#ec8d93"/>
<rect x="1261.5" y="455.5" width="4" height="44" fill="#f7b9d0" stroke="#e87f87" stroke-width="1"/>
<rect x="1269" y="490" width="1" height="19" fill="#43ab9f"/>
<rect x="1267" y="499" width="5" height="1" fill="#2f9f92"/>
<rect x="1276" y="467" width="1" height="32" fill="#43ab9f"/>
<rect x="1274.5" y="475.5" width="4" height="23" fill="#99929d" stroke="#2f9f92" stroke-width="1"/>
<rect x="1283" y="464" width="1" height="19" fill="#43ab9f"/>
<rect x="1281.5" y="464.5" width="4" height="10" fill="#99929d" stroke="#2f9f92" stroke-width="1"/>
<rect x="1290" y="450" width="1" height="39" fill="#ec8d93"/>
<rect x="1288.5" y="464.5" width="4" height="20" fill="#f7b9d0" stroke="#e87f87" stroke-width="1"/>
<rect x="1297" y="480" width="1" height="49" fill="#43ab9f"/>
<rect x="1295" y="484" width="5" height="1" fill="#2f9f92"/>
<rect x="1304" y="452" width="1" height="78" fill="#43ab9f"/>
<rect x="1302.5" y="452.5" width="4" height="30" fill="#99929d" stroke="#2f9f92" stroke-width="1"/>
<rect x="1311" y="434" width="1" height="50" fill="#ec8d93"/>
<rect x="1309.5" y="452.5" width="4" height="31" fill="#f7b9d0" stroke="#e87f87" stroke-width="1"/>
<rect x="1318" y="324" width="1" height="167" fill="#43ab9f"/>
<rect x="1316.5" y="338.5" width="4" height="145" fill="#99929d" stroke="#2f9f92" stroke-width="1"/>
<rect x="1325" y="306" width="1" height="49" fill="#ec8d93"/>
<rect x="1323.5" y="338.5" width="4" height="5" fill="#f7b9d0" stroke="#e87f87" stroke-width="1"/>
<rect x="1332" y="290" width="1" height="65" fill="#43ab9f"/>
<rect x="1330.5" y="299.5" width="4" height="44" fill="#99929d" stroke="#2f9f92" stroke-width="1"/>
<rect x="1339" y="268" width="1" height="32" fill="#43ab9f"/>
<rect x="1337.5" y="282.5" width="4" height="16" fill="#99929d" stroke="#2f9f92" stroke-width="1"/>
<rect x="1346" y="276" width="1" height="54" fill="#ec8d93"/>
<rect x="1344.5" y="282.5" width="4" height="28" fill="#f7b9d0" stroke="#e87f87" stroke-width="1"/>
<rect x="1353" y="284" width="1" height="33" fill="#43ab9f"/>
<rect x="1351.5" y="296.5" width="4" height="14" fill="#99929d" stroke="#2f9f92" stroke-width="1"/>
<rect x="1359" y="278" width="1" height="47" fill="#ec8d93"/>
<rect x="1357.5" y="296.5" width="4" height="3" fill="#f7b9d0" stroke="#e87f87" stroke-width="1"/>
<rect x="1366" y="268" width="1" height="33" fill="#43ab9f"/>
<rect x="1364.5" y="294.5" width="4" height="5" fill="#99929d" stroke="#2f9f92" stroke-width="1"/>
<rect x="1373" y="248" width="1" height="49" fill="#43ab9f"/>
<rect x="1371.5" y="253.5" width="4" height="40" fill="#99929d" stroke="#2f9f92" stroke-width="1"/>
<rect x="1380" y="185" width="1" height="68" fill="#43ab9f"/>
<rect x="1378.5" y="186.5" width="4" height="66" fill="#99929d" stroke="#2f9f92" stroke-width="1"/>
<rect x="1387" y="155" width="1" height="51" fill="#43ab9f"/>
<rect x="1385.5" y="168.5" width="4" height="17" fill="#99929d" stroke="#2f9f92" stroke-width="1"/>
<rect x="1394" y="127" width="1" height="58" fill="#43ab9f"/>
<rect x="1392.5" y="129.5" width="4" height="38" fill="#99929d" stroke="#2f9f92" stroke-width="1"/>
<rect x="1401" y="114" width="1" height="41" fill="#ec8d93"/>
<rect x="1399.5" y="129.5" width="4" height="2" fill="#f7b9d0" stroke="#e87f87" stroke-width="1"/>
<rect x="1408" y="125" width="1" height="64" fill="#ec8d93"/>
<rect x="1406.5" y="132.5" width="4" height="52" fill="#f7b9d0" stroke="#e87f87" stroke-width="1"/>
<rect x="1415" y="177" width="1" height="73" fill="#ec8d93"/>
<rect x="1413.5" y="185.5" width="4" height="64" fill="#f7b9d0" stroke="#e87f87" stroke-width="1"/>
<rect x="1422" y="236" width="1" height="62" fill="#ec8d93"/>
<rect x="1420.5" y="250.5" width="4" height="20" fill="#f7b9d0" stroke="#e87f87" stroke-width="1"/>
<rect x="1429" y="238" width="1" height="74" fill="#ec8d93"/>
<rect x="1427.5" y="271.5" width="4" height="39" fill="#f7b9d0" stroke="#e87f87" stroke-width="1"/>
<rect x="1436" y="273" width="1" height="46" fill="#43ab9f"/>
<rect x="1434.5" y="306.5" width="4" height="4" fill="#99929d" stroke="#2f9f92" stroke-width="1"/>
<rect x="1443" y="296" width="1" height="23" fill="#ec8d93"/>
<rect x="1441.5" y="306.5" width="4" height="2" fill="#f7b9d0" stroke="#e87f87" stroke-width="1"/>
<rect x="1449" y="284" width="1" height="44" fill="#43ab9f"/>
<rect x="1447.5" y="292.5" width="4" height="16" fill="#99929d" stroke="#2f9f92" stroke-width="1"/>
<rect x="1456" y="264" width="1" height="51" fill="#43ab9f"/>
<rect x="1454.5" y="265.5" width="4" height="26" fill="#99929d" stroke="#2f9f92" stroke-width="1"/>
<rect x="1463" y="259" width="1" height="42" fill="#ec8d93"/>
<rect x="1461.5" y="265.5" width="4" height="34" fill="#f7b9d0" stroke="#e87f87" stroke-width="1"/>
<rect x="1470" y="270" width="1" height="46" fill="#ec8d93"/>
<rect x="1468.5" y="300.5" width="4" height="9" fill="#f7b9d0" stroke="#e87f87" stroke-width="1"/>
<rect x="1477" y="240" width="1" height="78" fill="#43ab9f"/>
<rect x="1475.5" y="245.5" width="4" height="64" fill="#99929d" stroke="#2f9f92" stroke-width="1"/>
<rect x="1484" y="216" width="1" height="87" fill="#ec8d93"/>
<rect x="1482.5" y="245.5" width="4" height="50" fill="#f7b9d0" stroke="#e87f87" stroke-width="1"/>
<rect x="1491" y="278" width="1" height="45" fill="#ec8d93"/>
<rect x="1489" y="296" width="5" height="2" fill="#e87f87"/>
<rect x="1498" y="258" width="1" height="54" fill="#ec8d93"/>
<rect x="1496.5" y="298.5" width="4" height="5" fill="#f7b9d0" stroke="#e87f87" stroke-width="1"/>
<rect x="1505" y="303" width="1" height="76" fill="#ec8d93"/>
<rect x="1503.5" y="304.5" width="4" height="37" fill="#f7b9d0" stroke="#e87f87" stroke-width="1"/>
<rect x="1512" y="320" width="1" height="31" fill="#ec8d93"/>
<rect x="1510.5" y="342.5" width="4" height="7" fill="#f7b9d0" stroke="#e87f87" stroke-width="1"/>
<rect x="1519" y="330" width="1" height="23" fill="#43ab9f"/>
<rect x="1517" y="348" width="5" height="2" fill="#2f9f92"/>
<rect x="1526" y="310" width="1" height="40" fill="#43ab9f"/>
<rect x="1524.5" y="320.5" width="4" height="28" fill="#99929d" stroke="#2f9f92" stroke-width="1"/>
<rect x="1533" y="300" width="1" height="44" fill="#43ab9f"/>
<rect x="1531.5" y="302.5" width="4" height="17" fill="#99929d" stroke="#2f9f92" stroke-width="1"/>
<rect x="1540" y="276" width="1" height="35" fill="#43ab9f"/>
<rect x="1538.5" y="276.5" width="4" height="25" fill="#99929d" stroke="#2f9f92" stroke-width="1"/>
<rect x="1546" y="213" width="1" height="63" fill="#43ab9f"/>
<rect x="1544.5" y="214.5" width="4" height="61" fill="#99929d" stroke="#2f9f92" stroke-width="1"/>
<rect x="1553" y="214" width="1" height="42" fill="#ec8d93"/>
<rect x="1551.5" y="214.5" width="4" height="25" fill="#f7b9d0" stroke="#e87f87" stroke-width="1"/>
<rect x="1560" y="229" width="1" height="81" fill="#ec8d93"/>
<rect x="1558.5" y="240.5" width="4" height="64" fill="#f7b9d0" stroke="#e87f87" stroke-width="1"/>
<rect x="1567" y="234" width="1" height="85" fill="#43ab9f"/>
<rect x="1565.5" y="235.5" width="4" height="69" fill="#99929d" stroke="#2f9f92" stroke-width="1"/>
<rect x="1574" y="198" width="1" height="40" fill="#43ab9f"/>
<rect x="1572.5" y="208.5" width="4" height="26" fill="#99929d" stroke="#2f9f92" stroke-width="1"/>
<rect x="1581" y="204" width="1" height="51" fill="#ec8d93"/>
<rect x="1579.5" y="208.5" width="4" height="44" fill="#f7b9d0" stroke="#e87f87" stroke-width="1"/>
<rect x="1588" y="204" width="1" height="76" fill="#ec8d93"/>
<rect x="1586.5" y="253.5" width="4" height="25" fill="#f7b9d0" stroke="#e87f87" stroke-width="1"/>
<rect x="1595" y="250" width="1" height="82" fill="#ec8d93"/>
<rect x="1593.5" y="279.5" width="4" height="52" fill="#f7b9d0" stroke="#e87f87" stroke-width="1"/>
</g>
<g id="sticker">
<rect x="1221.2" y="542.1" width="70.7" height="70.4" fill="#f4f4f4"/>
<defs><linearGradient id="rg" x1="0" y1="0" x2="1" y2="1"><stop offset="0.26" stop-color="#3c0000"/><stop offset="0.36" stop-color="#8e0404"/><stop offset="0.5" stop-color="#cc0606"/><stop offset="1" stop-color="#e20808"/></linearGradient><linearGradient id="pg" gradientUnits="userSpaceOnUse" x1="1241" y1="560" x2="1249" y2="569"><stop offset="0" stop-color="#e0242e"/><stop offset="0.45" stop-color="#ff6a76"/><stop offset="1" stop-color="#c40c18"/></linearGradient><linearGradient id="sh" gradientUnits="userSpaceOnUse" x1="1245" y1="564" x2="1255" y2="575"><stop offset="0" stop-color="#6e5c5c" stop-opacity="0.85"/><stop offset="0.5" stop-color="#a89c9c" stop-opacity="0.4"/><stop offset="1" stop-color="#ffffff" stop-opacity="0"/></linearGradient><linearGradient id="ng" gradientUnits="userSpaceOnUse" x1="1235" y1="0" x2="1278" y2="0"><stop offset="0" stop-color="#5a0000"/><stop offset="0.3" stop-color="#b00606"/><stop offset="0.6" stop-color="#dc0808"/><stop offset="1" stop-color="#e40a0a"/></linearGradient><clipPath id="cc"><circle cx="1256" cy="577.4" r="31.4"/></clipPath></defs>
<circle cx="1256" cy="577.4" r="32.6" fill="#ffffff" stroke="url(#rg)" stroke-width="2.8"/>
<path d="M1221,583L1264.5,543.5L1280,556C1272,572 1252,590 1232,598Z" fill="url(#sh)" clip-path="url(#cc)"/>
<text x="1235.1" y="586.8" font-size="26.6" font-weight="bold" fill="url(#ng)" stroke="url(#ng)" stroke-width="1.5" stroke-linejoin="miter" textLength="42.8" lengthAdjust="spacingAndGlyphs">NEW</text>
<path d="M1221.2,542.1H1266L1263,544.7L1223,580.8L1221.2,583Z" fill="#f4f4f4"/>
<path d="M1223,580.8L1263,544.7C1261.5,556 1256,564 1248.5,568.5C1240,573 1230.5,576 1223,580.8Z" fill="url(#pg)"/>
</g>
<g id="annot">
<ellipse cx="1247.5" cy="503.2" rx="30.5" ry="12.6" fill="none" stroke="#9c3fa6" stroke-width="2.4"/>
<ellipse cx="1306.4" cy="488.2" rx="23" ry="11.2" fill="none" stroke="#9c3fa6" stroke-width="2.4"/>
<path d="M1310.4,234.6L1372.6,262.3" stroke="#3a36c8" stroke-width="2.9" fill="none"/>
<path d="M1318.8,425.8L1369.8,478.7" stroke="#3a36c8" stroke-width="2.9" fill="none"/>
<path d="M1475,131.2H1492V172.2H1499.6L1483,212.4L1466.2,172.2H1475Z" fill="none" stroke="#e8101c" stroke-width="2.6" stroke-linejoin="miter"/>
<path d="M1541.2,241.2L1554.6,269.2H1527.6Z" fill="none" stroke="#e8101c" stroke-width="2.8" stroke-linejoin="miter"/>
<rect x="1286.3" y="510" width="291.9" height="39.5" fill="none" stroke="#9c3fa6" stroke-width="2.2"/>
<text x="1291.5" y="524.4" style="font-family:'Liberation Serif',serif" font-weight="bold" font-size="14.5" fill="#9c3fa6" textLength="280" lengthAdjust="spacingAndGlyphs">Parfois, les points de formations de l'assise</text>
<text x="1291.5" y="541" style="font-family:'Liberation Serif',serif" font-weight="bold" font-size="14.5" fill="#9c3fa6" textLength="205" lengthAdjust="spacingAndGlyphs">haussière sont très rapprochés.</text>
</g>
<defs><filter id="ds" x="-30%" y="-30%" width="160%" height="160%"><feGaussianBlur in="SourceAlpha" stdDeviation="2"/><feOffset dy="1.5"/><feComponentTransfer><feFuncA type="linear" slope="0.22"/></feComponentTransfer><feMerge><feMergeNode/><feMergeNode in="SourceGraphic"/></feMerge></filter></defs><circle cx="1566.4" cy="671.7" r="15.2" fill="#ffffff" filter="url(#ds)"/><path d="M1561.2,666L1566.6,671.7L1561.2,677.4M1566.8,666L1572.2,671.7L1566.8,677.4" fill="none" stroke="#4a4e59" stroke-width="2.2"/>
<g id="legend">
<text x="10.6" y="67.2" font-size="17.5" fill="#50535e" text-anchor="start" font-weight="normal" textLength="338.2" lengthAdjust="spacingAndGlyphs" stroke="#50535e" stroke-width="0.12" >British Pound / Australian Dollar · 3 · FXCM</text>
<circle cx="375.7" cy="61.1" r="10" fill="#d6efec"/><circle cx="375.7" cy="61.1" r="4.3" fill="#129e8c"/>
<text x="404.1" y="67.6" font-size="14.5" fill="#50535e" text-anchor="start" font-weight="normal" textLength="9.1" lengthAdjust="spacingAndGlyphs" stroke="#50535e" stroke-width="0.25" >O</text>
<text x="416.4" y="67.6" font-size="14.5" fill="#26a69a" text-anchor="start" font-weight="normal" textLength="49.7" lengthAdjust="spacingAndGlyphs" stroke="#26a69a" stroke-width="0.25" >1.88950</text>
<text x="474.2" y="67.6" font-size="14.5" fill="#50535e" text-anchor="start" font-weight="normal" textLength="7.8" lengthAdjust="spacingAndGlyphs" stroke="#50535e" stroke-width="0.25" >H</text>
<text x="485" y="67.6" font-size="14.5" fill="#26a69a" text-anchor="start" font-weight="normal" textLength="49.9" lengthAdjust="spacingAndGlyphs" stroke="#26a69a" stroke-width="0.25" >1.88980</text>
<text x="543" y="67.6" font-size="14.5" fill="#50535e" text-anchor="start" font-weight="normal" textLength="5.9" lengthAdjust="spacingAndGlyphs" stroke="#50535e" stroke-width="0.25" >L</text>
<text x="551.6" y="67.6" font-size="14.5" fill="#26a69a" text-anchor="start" font-weight="normal" textLength="49.7" lengthAdjust="spacingAndGlyphs" stroke="#26a69a" stroke-width="0.25" >1.88949</text>
<text x="609.4" y="67.6" font-size="14.5" fill="#50535e" text-anchor="start" font-weight="normal" textLength="7.3" lengthAdjust="spacingAndGlyphs" stroke="#50535e" stroke-width="0.25" >C</text>
<text x="619.7" y="67.6" font-size="14.5" fill="#26a69a" text-anchor="start" font-weight="normal" textLength="49.9" lengthAdjust="spacingAndGlyphs" stroke="#26a69a" stroke-width="0.25" >1.88954</text>
<text x="677.5" y="67.6" font-size="14.5" fill="#26a69a" text-anchor="start" font-weight="normal" textLength="57.7" lengthAdjust="spacingAndGlyphs" stroke="#26a69a" stroke-width="0.25" >+0.00004</text>
<text x="741.4" y="67.6" font-size="14.5" fill="#26a69a" text-anchor="start" font-weight="normal" textLength="53.3" lengthAdjust="spacingAndGlyphs" stroke="#26a69a" stroke-width="0.25" >(+0.00%)</text>
<text x="10.5" y="92.5" font-size="14.5" fill="#b2b5be" text-anchor="start" font-weight="normal" textLength="18.9" lengthAdjust="spacingAndGlyphs" stroke="#b2b5be" stroke-width="0.3" >Vol</text>
<g fill="none" stroke="#2a2e39" stroke-width="1.3" stroke-linecap="round"><path d="M41.6,88C44.6,83.2 47.5,81.8 50.4,81.8C53.3,81.8 56.2,83.2 59.2,88C56.2,92.8 53.3,94.2 50.4,94.2C47.5,94.2 44.6,92.8 41.6,88Z"/><circle cx="50.4" cy="88" r="3.1"/><path d="M44,94.6L57,81.3" stroke-width="1.6"/></g>
<text x="10.6" y="119.4" font-size="14" fill="#50535e" text-anchor="start" font-weight="normal" textLength="75.5" lengthAdjust="spacingAndGlyphs" stroke="#50535e" stroke-width="0.2" >MA 50 close</text>
<text x="96.4" y="119.4" font-size="14" fill="#ff6d00" text-anchor="start" font-weight="normal" textLength="50.4" lengthAdjust="spacingAndGlyphs" stroke="#ff6d00" stroke-width="0.25" >1.88879</text>
<rect x="10.5" y="130.5" width="32" height="24" rx="3" fill="#ffffff" stroke="#d1d4dc" stroke-width="1"/>
<path d="M22.8,145.4L26.8,141.6L30.8,145.4" fill="none" stroke="#131722" stroke-width="1.3"/>
</g>
<g id="axes">
<rect x="1601" y="43" width="67" height="682" fill="#ffffff"/>
<rect x="0" y="725" width="1668" height="31" fill="#ffffff"/>
<rect x="1600.2" y="43" width="1.6" height="713" fill="#8e919c"/>
<rect x="0" y="724.4" width="1668" height="1.3" fill="#8e919c"/>
<rect x="0" y="754.5" width="1668" height="1.5" fill="#e0e3eb"/>
<text x="1613.2" y="63.8" font-size="14" fill="#50535e" text-anchor="start" font-weight="normal" textLength="46.3" lengthAdjust="spacingAndGlyphs" >1.89100</text>
<text x="1613.2" y="108.6" font-size="14" fill="#50535e" text-anchor="start" font-weight="normal" textLength="46.3" lengthAdjust="spacingAndGlyphs" >1.89050</text>
<text x="1613.2" y="153.4" font-size="14" fill="#50535e" text-anchor="start" font-weight="normal" textLength="46.3" lengthAdjust="spacingAndGlyphs" >1.89000</text>
<text x="1613.2" y="243.0" font-size="14" fill="#50535e" text-anchor="start" font-weight="normal" textLength="46.3" lengthAdjust="spacingAndGlyphs" >1.88900</text>
<text x="1613.2" y="287.8" font-size="14" fill="#50535e" text-anchor="start" font-weight="normal" textLength="46.3" lengthAdjust="spacingAndGlyphs" >1.88850</text>
<text x="1613.2" y="332.6" font-size="14" fill="#50535e" text-anchor="start" font-weight="normal" textLength="46.3" lengthAdjust="spacingAndGlyphs" >1.88800</text>
<text x="1613.2" y="377.4" font-size="14" fill="#50535e" text-anchor="start" font-weight="normal" textLength="46.3" lengthAdjust="spacingAndGlyphs" >1.88750</text>
<text x="1613.2" y="422.2" font-size="14" fill="#50535e" text-anchor="start" font-weight="normal" textLength="46.3" lengthAdjust="spacingAndGlyphs" >1.88700</text>
<text x="1613.2" y="467.0" font-size="14" fill="#50535e" text-anchor="start" font-weight="normal" textLength="46.3" lengthAdjust="spacingAndGlyphs" >1.88650</text>
<text x="1613.2" y="511.8" font-size="14" fill="#50535e" text-anchor="start" font-weight="normal" textLength="46.3" lengthAdjust="spacingAndGlyphs" >1.88600</text>
<text x="1613.2" y="556.6" font-size="14" fill="#50535e" text-anchor="start" font-weight="normal" textLength="46.3" lengthAdjust="spacingAndGlyphs" >1.88550</text>
<text x="1613.2" y="601.4" font-size="14" fill="#50535e" text-anchor="start" font-weight="normal" textLength="46.3" lengthAdjust="spacingAndGlyphs" >1.88500</text>
<text x="1613.2" y="646.2" font-size="14" fill="#50535e" text-anchor="start" font-weight="normal" textLength="46.3" lengthAdjust="spacingAndGlyphs" >1.88450</text>
<text x="1613.2" y="691.0" font-size="14" fill="#50535e" text-anchor="start" font-weight="normal" textLength="46.3" lengthAdjust="spacingAndGlyphs" >1.88400</text>
<rect x="1614.5" y="49.7" width="43" height="22.5" rx="3.5" fill="#ffffff" stroke="#d6d9e2" stroke-width="1"/>
<text x="1619.8" y="66.8" font-size="14.5" fill="#50535e" text-anchor="start" font-weight="normal" textLength="24.2" lengthAdjust="spacingAndGlyphs" >AUD</text>
<path d="M1648.1,59.7L1650.8,62.4L1653.6,59.7" fill="none" stroke="#434651" stroke-width="1.5"/>
<rect x="1601.6" y="180.3" width="65.4" height="34.2" rx="2" fill="#9598a1"/>
<text x="1613.2" y="194.6" font-size="14" fill="#131722" text-anchor="start" font-weight="normal" textLength="46.3" lengthAdjust="spacingAndGlyphs" >1.88954</text>
<text x="1613.2" y="210.2" font-size="14" fill="#2a2e39" text-anchor="start" font-weight="normal" textLength="32.8" lengthAdjust="spacingAndGlyphs" >01:50</text>
<rect x="1601.6" y="307.2" width="65.4" height="17.8" rx="2" fill="#9598a1"/>
<text x="1613.2" y="321.1" font-size="14" fill="#131722" text-anchor="start" font-weight="normal" textLength="46.3" lengthAdjust="spacingAndGlyphs" >1.88813</text>
<text x="78.5" y="744.8" font-size="14" fill="#50535e" text-anchor="middle" font-weight="normal" textLength="33.6" lengthAdjust="spacingAndGlyphs" >23:00</text>
<text x="348.5" y="744.8" font-size="14" fill="#50535e" text-anchor="middle" font-weight="normal" textLength="33.6" lengthAdjust="spacingAndGlyphs" >01:00</text>
<text x="486.5" y="744.8" font-size="14" fill="#50535e" text-anchor="middle" font-weight="normal" textLength="33.6" lengthAdjust="spacingAndGlyphs" >02:00</text>
<text x="625.5" y="744.8" font-size="14" fill="#50535e" text-anchor="middle" font-weight="normal" textLength="33.6" lengthAdjust="spacingAndGlyphs" >03:00</text>
<text x="763.5" y="744.8" font-size="14" fill="#50535e" text-anchor="middle" font-weight="normal" textLength="33.6" lengthAdjust="spacingAndGlyphs" >04:00</text>
<text x="902.5" y="744.8" font-size="14" fill="#50535e" text-anchor="middle" font-weight="normal" textLength="33.6" lengthAdjust="spacingAndGlyphs" >05:00</text>
<text x="1040.5" y="744.8" font-size="14" fill="#50535e" text-anchor="middle" font-weight="normal" textLength="33.6" lengthAdjust="spacingAndGlyphs" >06:00</text>
<text x="1179.5" y="744.8" font-size="14" fill="#50535e" text-anchor="middle" font-weight="normal" textLength="33.6" lengthAdjust="spacingAndGlyphs" >07:00</text>
<text x="1317.5" y="744.8" font-size="14" fill="#50535e" text-anchor="middle" font-weight="normal" textLength="33.6" lengthAdjust="spacingAndGlyphs" >08:00</text>
<text x="1456.5" y="744.8" font-size="14" fill="#50535e" text-anchor="middle" font-weight="normal" textLength="33.6" lengthAdjust="spacingAndGlyphs" >09:00</text>
<text x="210.2" y="744.8" font-size="14" fill="#131722" text-anchor="middle" font-weight="bold" textLength="14.4" lengthAdjust="spacingAndGlyphs" >15</text>
<clipPath id="tc"><rect x="0" y="725" width="1600" height="31"/></clipPath>
<text x="1579.2" y="744.8" font-size="14" fill="#50535e" text-anchor="start" font-weight="normal" textLength="33.6" lengthAdjust="spacingAndGlyphs" clip-path="url(#tc)">10:00</text>
<g fill="none" stroke="#131722" stroke-width="1.4"><circle cx="1636" cy="740.6" r="6"/><path d="M1642.2,740.6L1644.6,740.6M1640.4,745.0L1642.1,746.7M1636.0,746.8L1636.0,749.2M1631.6,745.0L1629.9,746.7M1629.8,740.6L1627.4,740.6M1631.6,736.2L1629.9,734.5M1636.0,734.4L1636.0,732.0M1640.4,736.2L1642.1,734.5"/></g>
</g>
<g id="toolbar">
<rect x="0" y="0" width="1668" height="42" fill="#ffffff"/>
<rect x="0" y="42" width="1668" height="1" fill="#e0e3eb"/>
<rect x="58.5" y="0" width="4" height="42" fill="#e3e5ec"/>
<rect x="175.0" y="0" width="1" height="42" fill="#e0e3eb"/>
<rect x="220.0" y="0" width="1" height="42" fill="#e0e3eb"/>
<rect x="265.0" y="0" width="1" height="42" fill="#e0e3eb"/>
<rect x="378.5" y="0" width="1" height="42" fill="#e0e3eb"/>
<rect x="522.5" y="0" width="1" height="42" fill="#e0e3eb"/>
<rect x="644.5" y="0" width="1" height="42" fill="#e0e3eb"/>
<rect x="767.5" y="0" width="1" height="42" fill="#e0e3eb"/>
<rect x="854.5" y="0" width="1" height="42" fill="#e0e3eb"/>
<rect x="953.0" y="0" width="1" height="42" fill="#e0e3eb"/>
<rect x="1024.0" y="0" width="1" height="42" fill="#e0e3eb"/>
<rect x="1275.0" y="0" width="1" height="42" fill="#e0e3eb"/>
<rect x="1319.5" y="0" width="1" height="42" fill="#e0e3eb"/>
<rect x="1450.5" y="0" width="1" height="42" fill="#e0e3eb"/>
<rect x="1495.5" y="0" width="1" height="42" fill="#e0e3eb"/>
<rect x="1538.0" y="0" width="1" height="42" fill="#e0e3eb"/>
<g stroke="#131722" stroke-width="2" stroke-linecap="round"><path d="M20.3,13.2H38.6M20.3,20.1H38.6M20.3,27H38.6"/></g>
<rect x="33" y="2" width="22.6" height="17" rx="8.5" fill="#ef5350"/>
<text x="44.6" y="14.8" font-size="12.5" fill="#ffffff" text-anchor="middle" font-weight="normal" textLength="11.5" lengthAdjust="spacingAndGlyphs" stroke="#ffffff" stroke-width="0.3" >11</text>
<circle cx="29.4" cy="35.6" r="2" fill="#a3a6af"/>
<text x="73.5" y="26" font-size="16.5" fill="#131722" text-anchor="start" font-weight="normal" textLength="58.3" lengthAdjust="spacingAndGlyphs" stroke="#131722" stroke-width="0.35" >GBPAUD</text>
<text x="188.9" y="26" font-size="16.5" fill="#131722" text-anchor="start" font-weight="normal" textLength="20.1" lengthAdjust="spacingAndGlyphs" stroke="#131722" stroke-width="0.35" >3m</text>
<g fill="none" stroke="#131722" stroke-width="1.2"><rect x="236" y="15.2" width="5" height="11.6"/><path d="M238.5,9.7V15.2M238.5,26.8V31"/><rect x="245.5" y="16.6" width="4.5" height="6.8"/><path d="M247.75,12.6V16.6M247.75,23.4V27.2"/></g>
<g fill="none" stroke="#131722" stroke-width="1.2"><circle cx="286" cy="20.5" r="10.2"/><path d="M280.5,20.5H291.5M286,15V26"/></g>
<text x="305.3" y="26" font-size="16.5" fill="#131722" text-anchor="start" font-weight="normal" textLength="62.1" lengthAdjust="spacingAndGlyphs" stroke="#131722" stroke-width="0.35" >Compare</text>
<g fill="none" stroke="#131722" stroke-width="1.25" stroke-linecap="round"><path d="M404.6,12.3C404.2,10.6 401,10.3 400.4,13.2L398.7,26.6C398.3,29.2 395.2,29.7 393.6,28.4"/><path d="M394.5,16.9H405"/><path d="M402.3,24.2L407,28.9M407,24.2L402.3,28.9" stroke-width="1.1"/></g>
<text x="420.3" y="26" font-size="16.5" fill="#131722" text-anchor="start" font-weight="normal" textLength="68.3" lengthAdjust="spacingAndGlyphs" stroke="#131722" stroke-width="0.35" >Indicators</text>
<path d="M507.1,18.1L511.4,22.3L515.7,18.1" fill="none" stroke="#131722" stroke-width="1.2"/>
<g fill="none" stroke="#2a2e39" stroke-width="1.35" stroke-linejoin="round"><path d="M535.5,28.4V22.8H539.8V16.1H544.5V19.4H549V13H553.5V28.4Z"/><path d="M539.8,22.8V28.4M544.5,19.4V28.4M549,19.4V28.4"/></g>
<text x="564" y="26" font-size="16.5" fill="#131722" text-anchor="start" font-weight="normal" textLength="68.8" lengthAdjust="spacingAndGlyphs" stroke="#131722" stroke-width="0.35" >Financials</text>
<g fill="none" stroke="#2a2e39" stroke-width="1.35" stroke-linejoin="round"><path d="M657.4,17.7L662.6,12.3L669.8,17.7L676.8,11.3" stroke-linecap="round"/><path d="M658.1,24.9V28.9M662.6,20.5V28.9M667.2,22.5V28.9M671.7,24.9V28.9M676.3,20.5V28.9"/></g>
<text x="685.4" y="26" font-size="16.5" fill="#131722" text-anchor="start" font-weight="normal" textLength="71" lengthAdjust="spacingAndGlyphs" stroke="#131722" stroke-width="0.35" >Templates</text>
<g fill="none" stroke="#2a2e39" stroke-width="1.3" stroke-linecap="round" stroke-linejoin="round"><path d="M798.5,20.9A9.2,9.2 0 1 0 789.6,30.0"/><path d="M779.8,17.7A4.6,4.6 0 0 1 786.5,11.9"/><path d="M792.1,11.9A4.6,4.6 0 0 1 798.8,17.7"/><path d="M789.4,14.8V20.5H785.3"/><path d="M791.1,27.5H800.9M796.1,22.5V32.5"/></g>
<text x="809" y="26" font-size="16.5" fill="#131722" text-anchor="start" font-weight="normal" textLength="34.1" lengthAdjust="spacingAndGlyphs" stroke="#131722" stroke-width="0.35" >Alert</text>
<g fill="none" stroke="#131722" stroke-width="1.2" stroke-linejoin="round"><path d="M876.8,13.9L869.9,20.7L876.8,27.3Z"/><path d="M885.9,13.9L879,20.7L885.9,27.3Z"/></g>
<text x="896" y="26" font-size="16.5" fill="#131722" text-anchor="start" font-weight="normal" textLength="45.6" lengthAdjust="spacingAndGlyphs" stroke="#131722" stroke-width="0.35" >Replay</text>
<path d="M970.3,15L966.3,19L970.3,22.9M966.5,19H973.5Q979.4,19.2 979.4,25.7" fill="none" stroke="#131722" stroke-width="1.4" stroke-linecap="round" stroke-linejoin="round"/>
<path d="M1007.7,15L1011.7,19L1007.7,22.9M1011.5,19H1003Q997.1,19.2 997.1,25.7" fill="none" stroke="#c5c8d0" stroke-width="1.25" stroke-linecap="round" stroke-linejoin="round"/>
<rect x="1288.7" y="11.6" width="20.6" height="18.4" rx="3" fill="none" stroke="#434651" stroke-width="1.5"/>
<path d="M1332.8,28.7H1351.5C1356.6,28.7 1356.6,21.4 1352.9,20.2C1351.6,14.5 1347,11.3 1342,11.3C1337,11.3 1333.5,14.5 1332.3,18.7C1328.4,19.9 1326.4,27.6 1332.8,28.7Z" fill="none" stroke="#131722" stroke-width="1.4" stroke-dasharray="4 2.6" stroke-dashoffset="2"/>
<text x="1360.8" y="26" font-size="16.5" fill="#131722" text-anchor="start" font-weight="normal" textLength="60.3" lengthAdjust="spacingAndGlyphs" stroke="#131722" stroke-width="0.35" >bleu-gris</text>
<path d="M1435,18.1L1439.2,22.3L1443.4,18.1" fill="none" stroke="#131722" stroke-width="1.2"/>
<g fill="none" stroke="#131722" stroke-width="1.35" stroke-linejoin="round"><path d="M1471.02,11.96 L1471.25,9.25 L1474.95,9.25 L1475.18,11.96 L1477.53,12.93 L1479.60,11.18 L1482.22,13.80 L1480.47,15.87 L1481.44,18.22 L1484.15,18.45 L1484.15,22.15 L1481.44,22.38 L1480.47,24.73 L1482.22,26.80 L1479.60,29.42 L1477.53,27.67 L1475.18,28.64 L1474.95,31.35 L1471.25,31.35 L1471.02,28.64 L1468.67,27.67 L1466.60,29.42 L1463.98,26.80 L1465.73,24.73 L1464.76,22.38 L1462.05,22.15 L1462.05,18.45 L1464.76,18.22 L1465.73,15.87 L1463.98,13.80 L1466.60,11.18 L1468.67,12.93Z"/><circle cx="1473.1" cy="20.3" r="3.3"/></g>
<g fill="none" stroke="#131722" stroke-width="1.45" stroke-linecap="butt" stroke-linejoin="miter"><path d="M1513.9,11.9H1508.9V16.9M1509.2,12.2L1514.2,17.2"/><path d="M1520.6,11.9H1525.6V16.9M1525.3,12.2L1520.3,17.2"/><path d="M1513.9,28.3H1508.9V23.3M1509.2,28L1514.2,23"/><path d="M1520.6,28.3H1525.6V23.3M1525.3,28L1520.3,23"/></g>
<g fill="none" stroke="#363a45" stroke-width="1.5" stroke-linejoin="round"><path d="M1550.4,12.8H1554.3L1556.2,10.3H1563.6L1565.5,12.8H1569.4A2,2 0 0 1 1571.4,14.8V26.6A2,2 0 0 1 1569.4,28.6H1550.4A2,2 0 0 1 1548.4,26.6V14.8A2,2 0 0 1 1550.4,12.8Z"/><circle cx="1559.9" cy="20.6" r="4.5"/></g>
<rect x="1582.5" y="0" width="85.5" height="42" fill="#2962ff"/>
<text x="1600.9" y="26.5" font-size="17" fill="#ffffff" text-anchor="start" font-weight="normal" textLength="53" lengthAdjust="spacingAndGlyphs" stroke="#ffffff" stroke-width="0.4" >Publish</text>
</g>
</svg>
</body></html>
